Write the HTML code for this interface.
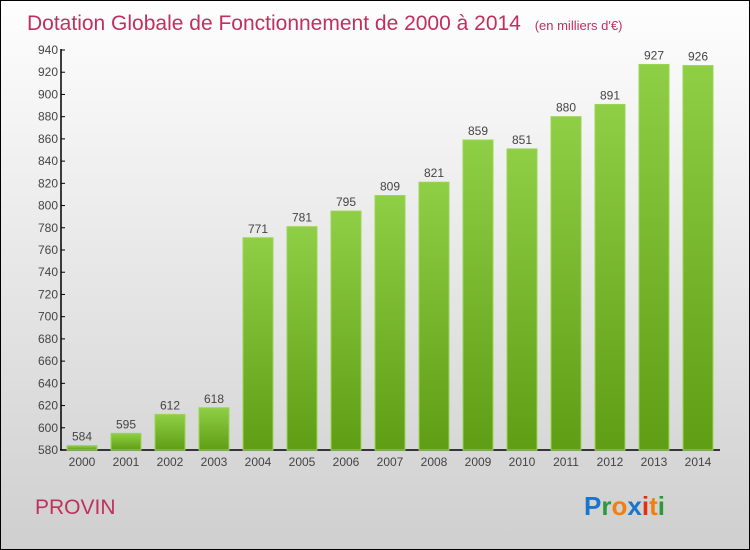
<!DOCTYPE html>
<html><head><meta charset="utf-8"><style>
body{margin:0;}
#c{width:750px;height:550px;position:relative;box-sizing:border-box;border:1px solid #000;background:linear-gradient(#fefefe,#cfcfcf);font-family:"Liberation Sans",sans-serif;overflow:hidden}
</style></head><body>
<div id="c">
<svg id="s" width="750" height="550" style="position:absolute;left:-1px;top:-1px">
<defs><linearGradient id="g" x1="0" y1="0" x2="0" y2="1"><stop offset="0" stop-color="#8fcf45"/><stop offset="1" stop-color="#5f9e14"/></linearGradient></defs>
<text x="27" y="30" font-size="21" fill="#c0305e">Dotation Globale de Fonctionnement de 2000 à 2014 <tspan font-size="13" dx="8">(en milliers d'€)</tspan></text>
<text x="35" y="514" font-size="21" fill="#c0305e">PROVIN</text>
<g font-size="26" font-weight="bold">
<text x="584" y="515"><tspan fill="#1a75cc">P</tspan><tspan fill="#2a9a3a">r</tspan><tspan fill="#f08010">o</tspan><tspan fill="#1a75cc">x</tspan><tspan fill="#e03010">i</tspan><tspan fill="#f08010">t</tspan><tspan fill="#2a9a3a">i</tspan></text>
</g>
<g id="axes"></g><g id="bars"></g>
</svg>
</div>
<script>
const years=["2000","2001","2002","2003","2004","2005","2006","2007","2008","2009","2010","2011","2012","2013","2014"];
const values=[584,595,612,618,771,781,795,809,821,859,851,880,891,927,926];
const yTicks=[580,600,620,640,660,680,700,720,740,760,780,800,820,840,860,880,900,920,940];
const NS="http://www.w3.org/2000/svg";
const y=v=>450-(v-580)*400/360;
const x=i=>82+i*44;
function mk(t,a,p,txt){const e=document.createElementNS(NS,t);for(const k in a)e.setAttribute(k,a[k]);if(txt!==undefined)e.textContent=txt;p.appendChild(e);return e;}
const ax=document.getElementById('axes'),bs=document.getElementById('bars');
const yl=mk('line',{x1:61,y1:49,x2:61,y2:450,stroke:'#000','stroke-width':1.5},ax);


const xl=mk('line',{x1:60,y1:450,x2:720,y2:450,stroke:'#000','stroke-width':1.5},ax);


yTicks.forEach(v=>{
 mk('line',{x1:61,y1:y(v),x2:65,y2:y(v),stroke:'#000'},ax);
 const t=mk('text',{x:58,y:y(v)+4,'font-size':12,fill:'#444','text-anchor':'end'},ax,v);
 
 
});
years.forEach((yr,i)=>{
 const v=values[i];
 const r=mk('rect',{x:x(i)-15,y:y(v),width:30,height:450-y(v),fill:'url(#g)',stroke:'#9ad555','stroke-width':1},bs);
 
 
 const l=mk('text',{x:x(i),y:y(v)-5,'font-size':12,fill:'#444','text-anchor':'middle'},bs,v);
 
 
 const xt=mk('text',{x:x(i),y:466,'font-size':12,fill:'#444','text-anchor':'middle'},bs,yr);
 
 
});
</script>
</body></html>
